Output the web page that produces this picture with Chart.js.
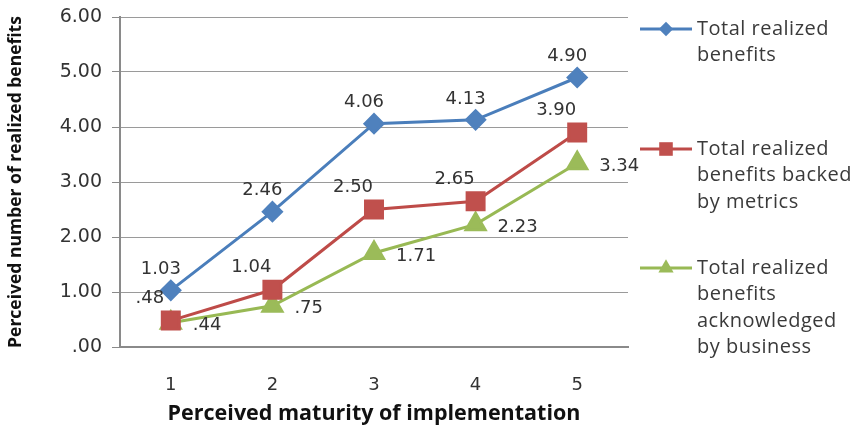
<!DOCTYPE html>
<html>
<head>
<meta charset="utf-8">
<script src="https://cdn.jsdelivr.net/npm/chart.js@4/dist/chart.umd.min.js"></script>
<style>
html,body{margin:0;padding:0;background:#fff;}
#wrap{width:857px;height:438px;position:relative;}
</style>
</head>
<body>
<div id="wrap"><canvas id="c" width="857" height="438"></canvas></div>
<script>
const categories = ['1', '2', '3', '4', '5'];
const totalRealized = [1.03, 2.46, 4.06, 4.13, 4.90];
const backedByMetrics = [0.48, 1.04, 2.50, 2.65, 3.90];
const acknowledgedByBusiness = [0.44, 0.75, 1.71, 2.23, 3.34];
const seriesNames = ['Total realized benefits', 'Total realized benefits backed by metrics', 'Total realized benefits acknowledged by business'];
const legendLines = [
  ['Total realized', 'benefits'],
  ['Total realized', 'benefits backed', 'by metrics'],
  ['Total realized', 'benefits', 'acknowledged', 'by business']
];
const yTicks = [0, 1, 2, 3, 4, 5, 6];
const xTitle = 'Perceived maturity of implementation';
const yTitle = 'Perceived number of realized benefits';

function fmt(v) {
  const s = v.toFixed(2);
  return s.startsWith('0') ? s.slice(1) : s;
}

const colors = [
  {line: '#4A7EBB', fill: '#4F81BD'},
  {line: '#BE4B48', fill: '#C0504D'},
  {line: '#98B954', fill: '#9BBB59'}
];
const pointStyles = ['rectRot', 'rect', 'triangle'];
const pointRadii = [9, 12, 11];
// label placement style per series
const labelStyle = [
  {dx: -10, dy: -21, align: 'center'},
  {dx: -21, dy: -22, align: 'center'},
  {dx: 22, dy: 3, align: 'left'}
];

const dataLabelPlugin = {
  id: 'dataLabels',
  afterDatasetsDraw(chart) {
    const ctx = chart.ctx;
    ctx.save();
    ctx.font = '18px "DejaVu Sans"';
    ctx.fillStyle = '#333';
    ctx.textBaseline = 'middle';
    chart.data.datasets.forEach((ds, i) => {
      const meta = chart.getDatasetMeta(i);
      const st = labelStyle[i];
      ctx.textAlign = st.align;
      meta.data.forEach((pt, j) => {
        ctx.fillText(fmt(ds.data[j]), pt.x + st.dx, pt.y + st.dy);
      });
    });
    ctx.restore();
  }
};

function drawMarker(ctx, style, x, y, r, color) {
  ctx.fillStyle = color;
  ctx.beginPath();
  if (style === 'rectRot') {
    ctx.moveTo(x - r, y); ctx.lineTo(x, y - r); ctx.lineTo(x + r, y); ctx.lineTo(x, y + r);
  } else if (style === 'rect') {
    const s = r * Math.SQRT1_2;
    ctx.rect(x - s, y - s, 2 * s, 2 * s);
  } else {
    const a = r;
    ctx.moveTo(x, y - a);
    ctx.lineTo(x + a * Math.cos(Math.PI / 6), y + a / 2);
    ctx.lineTo(x - a * Math.cos(Math.PI / 6), y + a / 2);
  }
  ctx.closePath();
  ctx.fill();
}

const legendPlugin = {
  id: 'sideLegend',
  afterDraw(chart) {
    const ctx = chart.ctx;
    ctx.save();
    const x0 = 640, x1 = 692, tx = 697, lh = 26.5;
    const tops = [29, 149, 268];
    ctx.font = '20px "Open Sans"';
    if ('letterSpacing' in ctx) ctx.letterSpacing = '0.5px';
    ctx.textBaseline = 'middle';
    ctx.textAlign = 'left';
    legendLines.forEach((lines, i) => {
      const y = tops[i];
      ctx.strokeStyle = colors[i].line;
      ctx.lineWidth = 3;
      ctx.beginPath(); ctx.moveTo(x0, y); ctx.lineTo(x1, y); ctx.stroke();
      drawMarker(ctx, pointStyles[i], (x0 + x1) / 2, y, pointRadii[i] * 0.8, colors[i].fill);
      ctx.fillStyle = '#3a3a3a';
      lines.forEach((t, k) => ctx.fillText(t, tx, y + k * lh));
    });
    ctx.restore();
  }
};

const datasetsSrc = [totalRealized, backedByMetrics, acknowledgedByBusiness];

new Chart(document.getElementById('c'), {
  type: 'line',
  data: {
    labels: categories,
    datasets: datasetsSrc.map((d, i) => ({
      label: seriesNames[i],
      data: d,
      borderColor: colors[i].line,
      backgroundColor: colors[i].fill,
      pointBackgroundColor: colors[i].fill,
      pointBorderColor: colors[i].fill,
      pointStyle: pointStyles[i],
      pointRadius: pointRadii[i],
      borderWidth: 3,
      tension: 0,
      fill: false
    }))
  },
  options: {
    responsive: false,
    animation: false,
    layout: {padding: {top: 17, right: 229, left: 0, bottom: 0}},
    plugins: {legend: {display: false}, tooltip: {enabled: false}},
    scales: {
      x: {
        offset: true,
        grid: {display: false, drawTicks: false},
        border: {display: true, color: '#8a8a8a', width: 2},
        ticks: {color: '#333', font: {family: 'DejaVu Sans', size: 18}, padding: 28},
        title: {display: true, text: xTitle, color: '#111', font: {family: 'Open Sans', size: 21.5, weight: 'bold'}, padding: {top: 8, bottom: 11}},
        afterFit(s) { s.height = 91; s.paddingLeft = 0; s.paddingRight = 0; }
      },
      y: {
        min: 0, max: 6,
        afterBuildTicks(s) { s.ticks = yTicks.map(v => ({value: v})); },
        grid: {color: '#9a9a9a', lineWidth: 1, tickLength: 8, tickColor: '#8a8a8a'},
        border: {display: true, color: '#8a8a8a', width: 2},
        ticks: {color: '#333', font: {family: 'DejaVu Sans', size: 19}, padding: 10, callback: v => fmt(v)},
        title: {display: true, text: yTitle, color: '#111', font: {family: 'Open Sans', size: 17.5, weight: 'bold'}, padding: {top: 6, bottom: 4}},
        afterFit(s) { s.width = 120; s.paddingTop = 0; s.paddingBottom = 0; }
      }
    }
  },
  plugins: [dataLabelPlugin, legendPlugin]
});
</script>
</body>
</html>
